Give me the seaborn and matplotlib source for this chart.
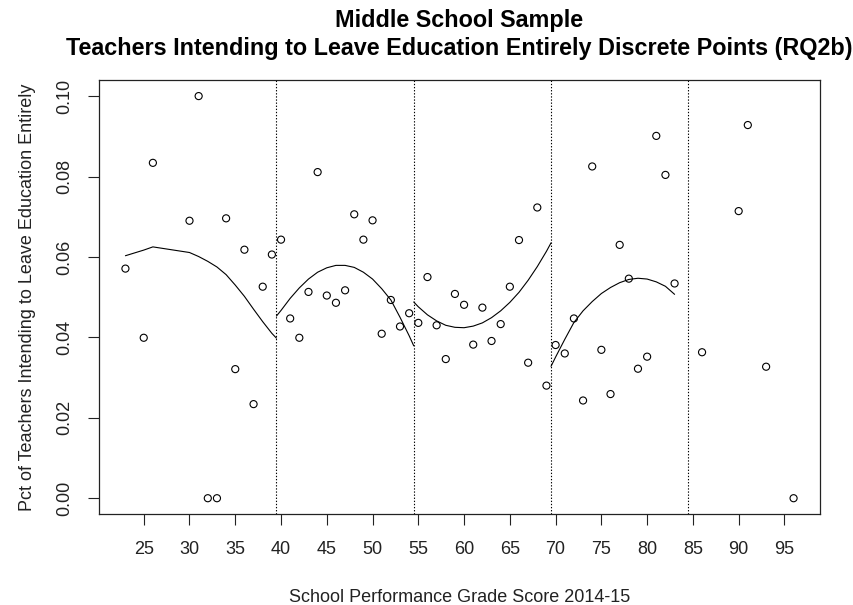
import numpy as np
import pandas as pd
import matplotlib
matplotlib.use("Agg")
import matplotlib.pyplot as plt
import seaborn as sns

# Share of teachers intending to leave education, by school performance score
score = [23, 25, 26, 30, 31, 32, 33, 34, 35, 36, 37, 38, 39,
         40, 41, 42, 43, 44, 45, 46, 47, 48, 49, 50, 51, 52, 53, 54,
         55, 56, 57, 58, 59, 60, 61, 62, 63, 64, 65, 66, 67, 68, 69,
         70, 71, 72, 73, 74, 75, 76, 77, 78, 79, 80, 81, 82, 83,
         86, 90, 91, 93, 96]
pct_leave = [0.0571, 0.0399, 0.0834, 0.0690, 0.1000, 0.0000, 0.0000, 0.0696, 0.0321, 0.0618, 0.0234, 0.0526, 0.0606,
             0.0643, 0.0447, 0.0399, 0.0513, 0.0811, 0.0504, 0.0486, 0.0517, 0.0706, 0.0643, 0.0691, 0.0409, 0.0493, 0.0427, 0.0460,
             0.0436, 0.0550, 0.0430, 0.0346, 0.0508, 0.0481, 0.0382, 0.0474, 0.0391, 0.0433, 0.0526, 0.0642, 0.0337, 0.0723, 0.0280,
             0.0381, 0.0360, 0.0447, 0.0243, 0.0825, 0.0369, 0.0259, 0.0630, 0.0546, 0.0322, 0.0352, 0.0901, 0.0804, 0.0534,
             0.0363, 0.0714, 0.0928, 0.0327, 0.0000]

# Grade band cutoffs
grade_cutoffs = [39.5, 54.5, 69.5, 84.5]

# Fitted curve within each grade band
fit1_score = [23, 25, 26, 30, 31, 32, 33, 34, 35, 36, 37, 38, 39, 39.5]
fit1_pct = [0.0603, 0.0617, 0.0625, 0.0611, 0.0601, 0.0589, 0.0575, 0.0556, 0.0530, 0.0502, 0.0470, 0.0439, 0.0410, 0.0398]
fit2_score = [39.5, 40, 41, 42, 43, 44, 45, 46, 47, 48, 49, 50, 51, 52, 53, 54, 54.5]
fit2_pct = [0.0453, 0.0467, 0.0497, 0.0523, 0.0545, 0.0562, 0.0573, 0.0579, 0.0579, 0.0574, 0.0562, 0.0545, 0.0521, 0.0493,
            0.0450, 0.0404, 0.0379]
fit3_score = [54.5, 55, 56, 57, 58, 59, 60, 61, 62, 63, 64, 65, 66, 67, 68, 69, 69.5]
fit3_pct = [0.0488, 0.0476, 0.0456, 0.0441, 0.0430, 0.0425, 0.0424, 0.0428, 0.0436, 0.0449, 0.0466, 0.0487, 0.0512, 0.0542,
            0.0576, 0.0614, 0.0635]
fit4_score = [69.5, 70, 71, 72, 73, 74, 75, 76, 77, 78, 79, 80, 81, 82, 83]
fit4_pct = [0.0328, 0.0351, 0.0395, 0.0437, 0.0466, 0.0489, 0.0509, 0.0524, 0.0536, 0.0544, 0.0547, 0.0545, 0.0538, 0.0527,
            0.0507]

x_ticks = list(range(25, 100, 5))
y_ticks = [0.00, 0.02, 0.04, 0.06, 0.08, 0.10]

title_lines = ["Middle School Sample",
               "Teachers Intending to Leave Education Entirely Discrete Points (RQ2b)"]
x_label = "School Performance Grade Score 2014-15"
y_label = "Pct of Teachers Intending to Leave Education Entirely"

points = pd.DataFrame({"score": score, "pct": pct_leave})
fits = pd.concat([
    pd.DataFrame({"score": s, "pct": p, "band": b})
    for b, (s, p) in enumerate([(fit1_score, fit1_pct), (fit2_score, fit2_pct),
                                (fit3_score, fit3_pct), (fit4_score, fit4_pct)])
], ignore_index=True)

sns.set_style("white")
plt.rcParams["font.family"] = ["Liberation Sans", "DejaVu Sans"]
plt.rcParams["axes.edgecolor"] = "#222222"

W, H = 854, 605
fig = plt.figure(figsize=(W / 100, H / 100), dpi=100)
left, right, top, bottom = 98.7, 820.3, 80.0, 514.3
ax = fig.add_axes([left / W, 1 - bottom / H, (right - left) / W, (bottom - top) / H])

for c in grade_cutoffs:
    ax.axvline(c, color="black", lw=0.8, ls=(0, (1.2, 1.6)), zorder=1)

sns.lineplot(data=fits, x="score", y="pct", units="band", estimator=None, sort=False,
             ax=ax, color="black", lw=0.8, zorder=2)
sns.scatterplot(data=points, x="score", y="pct", ax=ax, marker="o", s=26,
                facecolor="none", edgecolor="black", linewidth=0.8, zorder=3)

ax.set_xlim(20.08, 98.92)
ax.set_ylim(-0.004, 0.104)
ax.set_xticks(x_ticks)
ax.set_xticklabels([str(t) for t in x_ticks])
ax.set_yticks(y_ticks)
ax.set_yticklabels([f"{t:.2f}" for t in y_ticks], rotation=90, va="center")
ax.tick_params(axis="both", which="major", direction="out", length=8, width=0.8,
               color="#222222", labelsize=13, labelcolor="#222222", bottom=True, left=True)
ax.tick_params(axis="x", pad=11)
ax.tick_params(axis="y", pad=10)
for sp in ax.spines.values():
    sp.set_linewidth(0.9)
    sp.set_color("#222222")

ax.set_xlabel(x_label, fontsize=13, color="#222222", va="center")
ax.xaxis.set_label_coords(0.5, -(597 - bottom) / (bottom - top))
ax.set_ylabel(y_label, fontsize=13, color="#222222", va="center")
ax.yaxis.set_label_coords(-(left - 28) / (right - left), 0.5)

cx = (left + right) / 2 / W
fig.text(cx, 1 - 21 / H, title_lines[0], ha="center", va="center",
         fontsize=16.8, fontweight="bold", color="black")
fig.text(cx, 1 - 49 / H, title_lines[1], ha="center", va="center",
         fontsize=16.8, fontweight="bold", color="black")

fig.savefig("out.png", dpi=100, facecolor="white")
